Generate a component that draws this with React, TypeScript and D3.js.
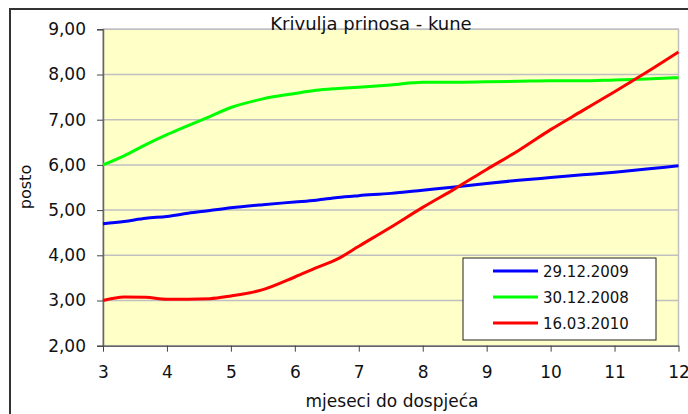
import React, { useRef, useEffect } from 'react';
import * as d3 from 'd3';

// months to maturity
const months = [3, 3.33, 3.67, 4, 4.33, 4.67, 5, 5.5, 6, 6.33, 6.67, 7, 7.5, 8, 8.5, 9, 9.5, 10, 10.5, 11, 11.5, 12];

const yield2009 = [4.70, 4.75, 4.82, 4.86, 4.93, 4.99, 5.05, 5.12, 5.18, 5.22, 5.28, 5.32, 5.37, 5.44, 5.51, 5.59, 5.66, 5.72, 5.78, 5.84, 5.91, 5.98];
const yield2008 = [6.00, 6.20, 6.45, 6.67, 6.87, 7.07, 7.27, 7.46, 7.58, 7.65, 7.69, 7.72, 7.77, 7.83, 7.83, 7.84, 7.85, 7.86, 7.86, 7.88, 7.90, 7.93];
const yield2010 = [3.00, 3.08, 3.07, 3.03, 3.03, 3.04, 3.10, 3.24, 3.52, 3.72, 3.92, 4.20, 4.62, 5.06, 5.47, 5.90, 6.32, 6.78, 7.20, 7.62, 8.05, 8.50];

const seriesNames = ['29.12.2009', '30.12.2008', '16.03.2010'];
const seriesColors = ['#0000ff', '#00ff00', '#ff0000'];
const seriesValues = [yield2009, yield2008, yield2010];

const xTicks = [3, 4, 5, 6, 7, 8, 9, 10, 11, 12];
const yTicks = [2, 3, 4, 5, 6, 7, 8, 9];

const FONT = 'DejaVu Sans, Verdana, sans-serif';

const YieldChart = ({ width = 688, height = 414 }) => {
  const ref = useRef(null);

  useEffect(() => {
    const svg = d3.select(ref.current);
    svg.selectAll('*').remove();

    const plot = { left: 103, top: 29.3, right: 678.5, bottom: 345.7 };

    const x = d3.scaleLinear().domain([3, 12]).range([plot.left, plot.right]);
    const y = d3.scaleLinear().domain([2, 9]).range([plot.bottom, plot.top]);

    // outer chart frame
    svg.append('rect')
      .attr('x', 10)
      .attr('y', 9)
      .attr('width', 720)
      .attr('height', 440)
      .attr('fill', '#fff')
      .attr('stroke', '#333')
      .attr('stroke-width', 2);

    // plot area
    svg.append('rect')
      .attr('x', plot.left)
      .attr('y', plot.top)
      .attr('width', plot.right - plot.left)
      .attr('height', plot.bottom - plot.top)
      .attr('fill', '#ffffc8')
      .attr('stroke', '#c0c0c0')
      .attr('stroke-width', 1.5);

    // grid lines
    svg.append('g')
      .selectAll('line')
      .data(yTicks)
      .enter()
      .append('line')
      .attr('x1', plot.left)
      .attr('x2', plot.right)
      .attr('y1', d => y(d))
      .attr('y2', d => y(d))
      .attr('stroke', '#c0c0c0')
      .attr('stroke-width', 1.5);

    const fmt = d => d3.format('.2f')(d).replace('.', ',');

    const yAxis = svg.append('g')
      .attr('transform', `translate(${plot.left},0)`)
      .call(d3.axisLeft(y).tickValues(yTicks).tickSize(6).tickPadding(11).tickFormat(fmt));
    yAxis.select('.domain').attr('stroke', '#666').attr('stroke-width', 1.5);
    yAxis.selectAll('.tick line').attr('stroke', '#444');
    yAxis.selectAll('text')
      .attr('font-family', FONT)
      .attr('font-size', 17)
      .attr('fill', '#111');

    const xAxis = svg.append('g')
      .attr('transform', `translate(0,${plot.bottom})`)
      .call(d3.axisBottom(x).tickValues(xTicks).tickSize(6).tickPadding(14).tickSizeOuter(0));
    xAxis.select('.domain').attr('stroke', '#666').attr('stroke-width', 1.5);
    xAxis.selectAll('.tick line').attr('stroke', '#444');
    xAxis.selectAll('text')
      .attr('font-family', FONT)
      .attr('font-size', 17)
      .attr('fill', '#111');

    // lines
    const line = d3.line()
      .x((d, i) => x(months[i]))
      .y(d => y(d))
      .curve(d3.curveMonotoneX);

    seriesValues.forEach((vals, i) => {
      svg.append('path')
        .datum(vals)
        .attr('fill', 'none')
        .attr('stroke', seriesColors[i])
        .attr('stroke-width', 3)
        .attr('d', line);
    });

    // title
    svg.append('text')
      .attr('x', 371)
      .attr('y', 30)
      .attr('text-anchor', 'middle')
      .attr('font-family', FONT)
      .attr('font-size', 18)
      .attr('fill', '#111')
      .text('Krivulja prinosa - kune');

    // axis titles
    svg.append('text')
      .attr('x', 392)
      .attr('y', 407)
      .attr('text-anchor', 'middle')
      .attr('font-family', FONT)
      .attr('font-size', 17)
      .attr('fill', '#111')
      .text('mjeseci do dospjeća');

    svg.append('text')
      .attr('transform', 'rotate(-90)')
      .attr('x', -187)
      .attr('y', 31)
      .attr('text-anchor', 'middle')
      .attr('font-family', FONT)
      .attr('font-size', 16)
      .attr('fill', '#111')
      .text('posto');

    // legend
    const legend = svg.append('g').attr('transform', 'translate(463,258)');
    legend.append('rect')
      .attr('width', 193)
      .attr('height', 82)
      .attr('fill', '#fff')
      .attr('stroke', '#222')
      .attr('stroke-width', 1);

    seriesNames.forEach((name, i) => {
      const cy = 13 + i * 26;
      legend.append('line')
        .attr('x1', 30)
        .attr('x2', 75)
        .attr('y1', cy)
        .attr('y2', cy)
        .attr('stroke', seriesColors[i])
        .attr('stroke-width', 3);
      legend.append('text')
        .attr('x', 80)
        .attr('y', cy + 5.5)
        .attr('font-family', FONT)
        .attr('font-size', 15)
        .attr('fill', '#111')
        .text(name);
    });
  }, [width, height]);

  return (
    <svg
      ref={ref}
      width={width}
      height={height}
      style={{ position: 'absolute', left: 0, top: 0, display: 'block' }}
    />
  );
};

export default function App() {
  return <YieldChart />;
}
